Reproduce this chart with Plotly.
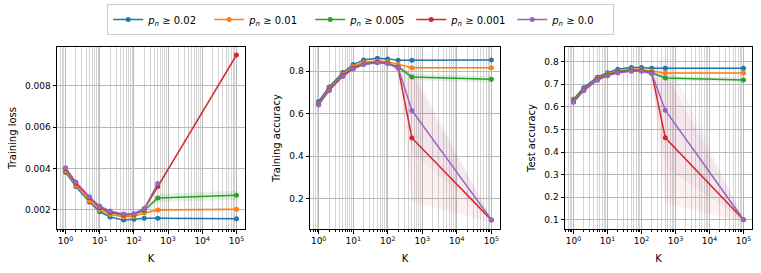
import plotly.graph_objects as go

# ---------------- data ----------------
K = [1, 2, 5, 10, 20, 50, 100, 200, 500, 100000]
series_names = ["<i>p</i><sub><i>n</i></sub> ≥ 0.02", "<i>p</i><sub><i>n</i></sub> ≥ 0.01",
                "<i>p</i><sub><i>n</i></sub> ≥ 0.005", "<i>p</i><sub><i>n</i></sub> ≥ 0.001",
                "<i>p</i><sub><i>n</i></sub> ≥ 0.0"]
colors = ["#1f77b4", "#ff7f0e", "#2ca02c", "#d62728", "#9467bd"]
band_colors = ["rgba(31,119,180,0.12)", "rgba(255,127,14,0.12)", "rgba(44,160,44,0.12)",
               "rgba(214,39,40,0.07)", "rgba(148,103,189,0.07)"]

# Training loss
loss_002 = [0.00382, 0.00313, 0.00239, 0.00192, 0.00166, 0.00151, 0.00155, 0.00160, 0.00160, 0.00158]
loss_001 = [0.00390, 0.00320, 0.00245, 0.00200, 0.00178, 0.00167, 0.00168, 0.00185, 0.00200, 0.00203]
loss_0005 = [0.00400, 0.00330, 0.00260, 0.00210, 0.00188, 0.00176, 0.00178, 0.00198, 0.00258, 0.00271]
loss_0001 = [0.00400, 0.00330, 0.00260, 0.00215, 0.00190, 0.00178, 0.00180, 0.00205, 0.00313, 0.00949]
loss_0 = [0.00404, 0.00335, 0.00264, 0.00218, 0.00195, 0.00180, 0.00182, 0.00207, 0.00328, None]
loss_sd_002 = [0.00006, 0.00005, 0.00005, 0.00004, 0.00004, 0.00004, 0.00004, 0.00004, 0.00004, 0.00004]
loss_sd_001 = [0.00006, 0.00005, 0.00005, 0.00004, 0.00004, 0.00004, 0.00004, 0.00005, 0.00006, 0.00006]
loss_sd_0005 = [0.00006, 0.00005, 0.00005, 0.00004, 0.00004, 0.00004, 0.00004, 0.00006, 0.00020, 0.00022]
loss_sd_0001 = [0.00006, 0.00005, 0.00005, 0.00004, 0.00004, 0.00004, 0.00004, 0.00006, 0.00010, 0.00010]
loss_sd_0 = [0.00006, 0.00005, 0.00005, 0.00004, 0.00004, 0.00004, 0.00004, 0.00006, 0.00015, None]

# Training accuracy
tr_002 = [0.657, 0.726, 0.794, 0.831, 0.853, 0.861, 0.858, 0.852, 0.852, 0.853]
tr_001 = [0.648, 0.717, 0.785, 0.822, 0.842, 0.848, 0.845, 0.831, 0.816, 0.816]
tr_0005 = [0.645, 0.713, 0.780, 0.815, 0.835, 0.843, 0.838, 0.820, 0.773, 0.762]
tr_0001 = [0.643, 0.710, 0.778, 0.813, 0.833, 0.842, 0.837, 0.815, 0.485, 0.099]
tr_0 = [0.641, 0.708, 0.775, 0.810, 0.831, 0.840, 0.835, 0.816, 0.615, 0.100]
tr_sd_002 = [0.005, 0.004, 0.004, 0.004, 0.003, 0.003, 0.003, 0.003, 0.003, 0.003]
tr_sd_001 = [0.005, 0.004, 0.004, 0.004, 0.003, 0.003, 0.003, 0.004, 0.005, 0.005]
tr_sd_0005 = [0.005, 0.004, 0.004, 0.004, 0.003, 0.003, 0.003, 0.008, 0.015, 0.015]
tr_sd_0001 = [0.005, 0.004, 0.004, 0.004, 0.003, 0.003, 0.004, 0.015, 0.300, 0.010]
tr_sd_0 = [0.005, 0.004, 0.004, 0.004, 0.003, 0.003, 0.004, 0.012, 0.200, 0.005]

# Test accuracy
te_002 = [0.634, 0.685, 0.731, 0.751, 0.766, 0.774, 0.774, 0.771, 0.771, 0.771]
te_001 = [0.627, 0.678, 0.725, 0.746, 0.758, 0.766, 0.765, 0.759, 0.750, 0.750]
te_0005 = [0.624, 0.675, 0.722, 0.742, 0.755, 0.763, 0.762, 0.751, 0.728, 0.719]
te_0001 = [0.622, 0.673, 0.720, 0.740, 0.753, 0.760, 0.760, 0.750, 0.463, 0.100]
te_0 = [0.620, 0.671, 0.718, 0.738, 0.750, 0.758, 0.758, 0.747, 0.585, 0.100]
te_sd_002 = [0.005, 0.004, 0.004, 0.003, 0.003, 0.003, 0.003, 0.003, 0.003, 0.003]
te_sd_001 = [0.005, 0.004, 0.004, 0.003, 0.003, 0.003, 0.003, 0.004, 0.004, 0.004]
te_sd_0005 = [0.005, 0.004, 0.004, 0.003, 0.003, 0.003, 0.003, 0.006, 0.010, 0.010]
te_sd_0001 = [0.005, 0.004, 0.004, 0.003, 0.003, 0.003, 0.004, 0.012, 0.290, 0.010]
te_sd_0 = [0.005, 0.004, 0.004, 0.003, 0.003, 0.003, 0.004, 0.010, 0.250, 0.005]

panels = [
    ([loss_002, loss_001, loss_0005, loss_0001, loss_0],
     [loss_sd_002, loss_sd_001, loss_sd_0005, loss_sd_0001, loss_sd_0], "Training loss"),
    ([tr_002, tr_001, tr_0005, tr_0001, tr_0],
     [tr_sd_002, tr_sd_001, tr_sd_0005, tr_sd_0001, tr_sd_0], "Training accuracy"),
    ([te_002, te_001, te_0005, te_0001, te_0],
     [te_sd_002, te_sd_001, te_sd_0005, te_sd_0001, te_sd_0], "Test accuracy"),
]
y_ticks = [[0.002, 0.004, 0.006, 0.008], [0.2, 0.4, 0.6, 0.8], [0.1, 0.2, 0.3, 0.4, 0.5, 0.6, 0.7, 0.8]]
y_fmt = [".3f", ".1f", ".1f"]
y_ranges = [[0.00108, 0.00988], [0.056, 0.914], [0.059, 0.865]]
x_tick_vals = [1, 10, 100, 1000, 10000, 100000]
x_tick_text = ["10<sup>%d</sup>" % i for i in range(6)]

# ---------------- figure ----------------
W, H = 761, 273
x_domains = [[57 / W, 245 / W], [310 / W, 500 / W], [565 / W, 752 / W]]
y_domain = [1 - 229 / H, 1 - 47 / H]
minor_vals = [m * 10 ** e for e in range(-1, 6) for m in range(2, 10)]

fig = go.Figure()
font = "DejaVu Sans, Arial, sans-serif"

for p, (vals, sds, ytitle) in enumerate(panels):
    xa = "x" if p == 0 else "x%d" % (p + 1)
    ya = "y" if p == 0 else "y%d" % (p + 1)
    # bands
    for s in range(5):
        xs, lo, hi = [], [], []
        for k, v, sd in zip(K, vals[s], sds[s]):
            if v is None:
                continue
            xs.append(k)
            lo.append(v - sd)
            hi.append(v + sd)
        fig.add_trace(go.Scatter(x=xs + xs[::-1], y=hi + lo[::-1], fill="toself",
                                 fillcolor=band_colors[s], line=dict(width=0),
                                 mode="lines", hoverinfo="skip", showlegend=False,
                                 xaxis=xa, yaxis=ya))
    # lines
    for s in range(5):
        xs = [k for k, v in zip(K, vals[s]) if v is not None]
        ys = [v for v in vals[s] if v is not None]
        fig.add_trace(go.Scatter(x=xs, y=ys, mode="lines+markers", name=series_names[s],
                                 line=dict(color=colors[s], width=1.5),
                                 marker=dict(color=colors[s], size=5),
                                 showlegend=(p == 0), xaxis=xa, yaxis=ya))

    axis_common = dict(showline=True, linecolor="black", linewidth=1, mirror=True,
                       ticks="outside", ticklen=3.5, tickcolor="black",
                       tickfont=dict(size=9, color="black", family=font),
                       showgrid=True, gridcolor="#b8b8b8", gridwidth=1, zeroline=False)
    fig.update_layout(**{
        ("xaxis" if p == 0 else "xaxis%d" % (p + 1)): dict(
            axis_common, type="log", range=[-0.25, 5.25], domain=x_domains[p],
            anchor=ya, tickmode="array", tickvals=x_tick_vals, ticktext=x_tick_text,
            title=dict(text="K", font=dict(size=10, color="black", family=font), standoff=9),
            minor=dict(tickmode="array", tickvals=minor_vals, ticks="outside", ticklen=2,
                       tickcolor="black", showgrid=True, gridcolor="#d4d4d4", gridwidth=0.8)),
        ("yaxis" if p == 0 else "yaxis%d" % (p + 1)): dict(
            axis_common, range=y_ranges[p], domain=y_domain, anchor=xa,
            tickmode="array", tickvals=y_ticks[p], tickformat=y_fmt[p],
            title=dict(text=ytitle, font=dict(size=10, color="black", family=font), standoff=6)),
    })

fig.update_layout(
    width=W, height=H, margin=dict(l=0, r=0, t=0, b=0),
    plot_bgcolor="white", paper_bgcolor="white",
    font=dict(family=font, size=10, color="black"),
    legend=dict(orientation="h", x=0.474, xanchor="center", y=0.985, yanchor="top",
                bordercolor="#cccccc", borderwidth=1, font=dict(size=10, family=font),
                itemwidth=30, entrywidth=56, tracegroupgap=0),
)

fig.write_html("out.html", config={"displayModeBar": False},
               post_script="document.body.style.margin='0';")
